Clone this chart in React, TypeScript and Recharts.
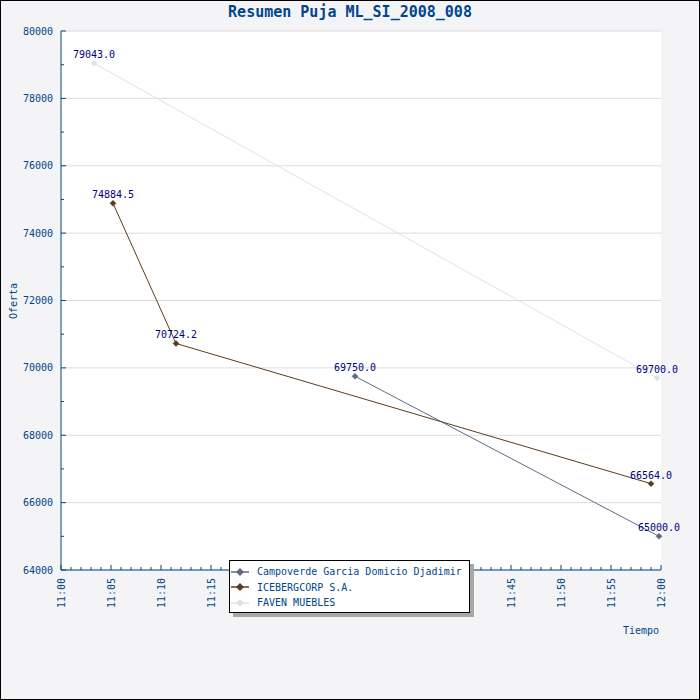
import React from 'react';
import { LineChart, Line, XAxis, YAxis, CartesianGrid, LabelList, Legend } from 'recharts';

// ---- data (minutes after 11:00, bid value) ----
const seriesNames = ['Campoverde Garcia Domicio Djadimir', 'ICEBERGCORP S.A.', 'FAVEN MUEBLES'];
const seriesColors = ['#5f6a80', '#5a3c1c', '#dbe4e1'];

const campoverde = [
  { t: 29.4, v: 69750.0 },
  { t: 59.8, v: 65000.0 },
];
const iceberg = [
  { t: 5.2, v: 74884.5 },
  { t: 11.5, v: 70724.2 },
  { t: 59.0, v: 66564.0 },
];
const faven = [
  { t: 3.3, v: 79043.0 },
  { t: 59.6, v: 69700.0 },
];

const xMajorLabels = ['11:00', '11:05', '11:10', '11:15', '11:20', '11:25', '11:30', '11:35', '11:40', '11:45', '11:50', '11:55', '12:00'];
const xTicks = Array.from({ length: 61 }, (_, i) => i);
const yMajor = [64000, 66000, 68000, 70000, 72000, 74000, 76000, 78000, 80000];
const yTicks = Array.from({ length: 17 }, (_, i) => 64000 + i * 1000);

const title = 'Resumen Puja ML_SI_2008_008';
const yTitle = 'Oferta';
const xTitle = 'Tiempo';

const AXIS = '#00468c';
const LABEL = '#000080';
const FONT = '"DejaVu Sans Mono", "Liberation Mono", monospace';

const XTick = (props: any) => {
  const { x, y, payload } = props;
  const v = payload.value;
  const major = v % 5 === 0;
  return (
    <g>
      <line x1={x} x2={x} y1={y} y2={y - (major ? 5 : 3)} stroke={AXIS} strokeWidth={1} />
      {major && (
        <text
          transform={`translate(${x},${y + 8}) rotate(-90)`}
          textAnchor="end"
          dominantBaseline="central"
          fill={AXIS}
          fontSize={10}
          fontFamily={FONT}
        >
          {xMajorLabels[v / 5]}
        </text>
      )}
    </g>
  );
};

const YTick = (props: any) => {
  const { x, y, payload } = props;
  const v = payload.value;
  const major = v % 2000 === 0;
  return (
    <g>
      <line x1={x} x2={x + (major ? 5 : 3)} y1={y} y2={y} stroke={AXIS} strokeWidth={1} />
      {major && (
        <text x={x - 8} y={y} textAnchor="end" dominantBaseline="central" fill={AXIS} fontSize={10} fontFamily={FONT}>
          {v}
        </text>
      )}
    </g>
  );
};

const makeDiamond = (color: string) => (props: any) => {
  const { cx, cy, index } = props;
  if (cx == null || cy == null) return <g key={index} />;
  return (
    <polygon
      key={index}
      points={`${cx},${cy - 3} ${cx + 3},${cy} ${cx},${cy + 3} ${cx - 3},${cy}`}
      fill={color}
      stroke={color}
      strokeWidth={0.5}
    />
  );
};

const LegendBox = () => (
  <div
    style={{
      width: 241,
      height: 53,
      boxSizing: 'border-box',
      border: '1px solid #000',
      background: '#fff',
      boxShadow: '4px 4px 0 #a8a8a8',
      paddingTop: 3,
    }}
  >
    {seriesNames.map((n, i) => (
      <div key={n} style={{ display: 'flex', alignItems: 'center', height: 15.5 }}>
        <svg width={24} height={12} style={{ marginLeft: 1, flex: 'none' }}>
          <line x1={0} x2={18} y1={6} y2={6} stroke={seriesColors[i]} strokeWidth={1.5} />
          <polygon points="9,2 13,6 9,10 5,6" fill={seriesColors[i]} />
        </svg>
        <span style={{ marginLeft: 2, fontFamily: FONT, fontSize: 10, color: AXIS, whiteSpace: 'nowrap' }}>{n}</span>
      </div>
    ))}
  </div>
);

const fmt = (v: any) => Number(v).toFixed(1);

export default function App() {
  return (
    <div style={{ position: 'absolute', left: 0, top: 0, width: 700, height: 700, background: '#f4f4f6' }}>
      <LineChart width={700} height={700} margin={{ top: 31, right: 39, bottom: 0, left: 0 }}>
        <CartesianGrid vertical={false} horizontalValues={yMajor} stroke="#dcdcdc" fill="#ffffff" />
        <XAxis
          type="number"
          dataKey="t"
          domain={[0, 60]}
          ticks={xTicks}
          interval={0}
          height={130}
          tickSize={0}
          tickMargin={0}
          tickLine={false}
          axisLine={{ stroke: AXIS }}
          tick={<XTick />}
          allowDuplicatedCategory={false}
        />
        <YAxis
          type="number"
          dataKey="v"
          domain={[64000, 80000]}
          ticks={yTicks}
          interval={0}
          width={61}
          tickSize={0}
          tickMargin={0}
          tickLine={false}
          axisLine={{ stroke: AXIS }}
          tick={<YTick />}
        />
        <Legend
          layout="vertical"
          align="center"
          verticalAlign="middle"
          wrapperStyle={{ left: 229, top: 560, width: 245, height: 58 }}
          content={() => <LegendBox />}
        />
        <Line
          data={faven}
          dataKey="v"
          name={seriesNames[2]}
          stroke={seriesColors[2]}
          strokeWidth={1}
          dot={makeDiamond(seriesColors[2])}
          activeDot={false}
          isAnimationActive={false}
        >
          <LabelList dataKey="v" position="top" offset={5} formatter={fmt} fill={LABEL} fontSize={10} fontFamily={FONT} />
        </Line>
        <Line
          data={campoverde}
          dataKey="v"
          name={seriesNames[0]}
          stroke={seriesColors[0]}
          strokeWidth={1}
          dot={makeDiamond(seriesColors[0])}
          activeDot={false}
          isAnimationActive={false}
        >
          <LabelList dataKey="v" position="top" offset={5} formatter={fmt} fill={LABEL} fontSize={10} fontFamily={FONT} />
        </Line>
        <Line
          data={iceberg}
          dataKey="v"
          name={seriesNames[1]}
          stroke={seriesColors[1]}
          strokeWidth={1}
          dot={makeDiamond(seriesColors[1])}
          activeDot={false}
          isAnimationActive={false}
        >
          <LabelList dataKey="v" position="top" offset={5} formatter={fmt} fill={LABEL} fontSize={10} fontFamily={FONT} />
        </Line>
      </LineChart>
      <div
        style={{
          position: 'absolute',
          left: 0,
          top: 3,
          width: 700,
          textAlign: 'center',
          fontFamily: FONT,
          fontSize: 15,
          fontWeight: 'bold',
          lineHeight: '18px',
          color: AXIS,
        }}
      >
        {title}
      </div>
      <div
        style={{
          position: 'absolute',
          left: 14,
          top: 301,
          transform: 'translate(-50%, -50%) rotate(-90deg)',
          fontFamily: FONT,
          fontSize: 10,
          lineHeight: '12px',
          color: AXIS,
          whiteSpace: 'nowrap',
        }}
      >
        {yTitle}
      </div>
      <div
        style={{
          position: 'absolute',
          left: 641,
          top: 631,
          transform: 'translate(-50%, -50%)',
          fontFamily: FONT,
          fontSize: 10,
          lineHeight: '12px',
          color: AXIS,
          whiteSpace: 'nowrap',
        }}
      >
        {xTitle}
      </div>
      <div
        style={{
          position: 'absolute',
          left: 0,
          top: 0,
          width: 700,
          height: 700,
          boxSizing: 'border-box',
          border: '1px solid #000',
          pointerEvents: 'none',
        }}
      />
    </div>
  );
}
